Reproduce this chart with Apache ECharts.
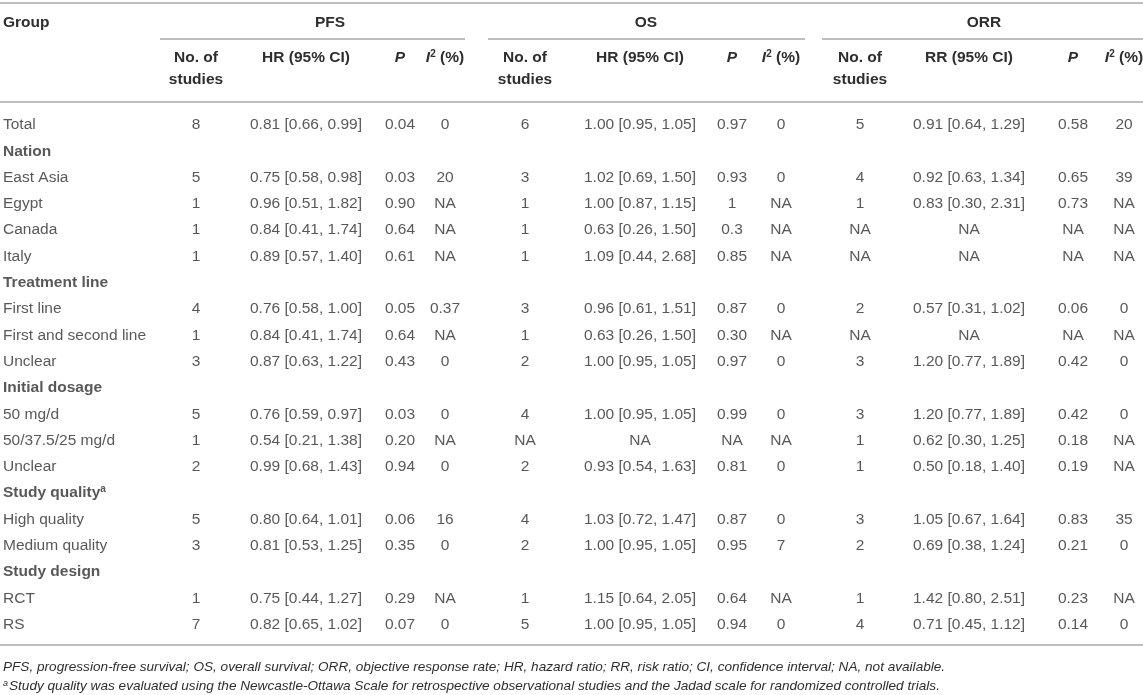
<!DOCTYPE html>
<html>
<head>
<meta charset="utf-8">
<script src="https://cdn.jsdelivr.net/npm/echarts@6/dist/echarts.min.js"></script>
<style>
  html, body { margin: 0; padding: 0; background: #fff; }
  #main { width: 1143px; height: 695px; }
</style>
</head>
<body>
<div id="main"></div>
<script>
// rows of the table body (section headings included)
const rowLabels = ['Total', 'Nation', 'East Asia', 'Egypt', 'Canada', 'Italy',
  'Treatment line', 'First line', 'First and second line', 'Unclear',
  'Initial dosage', '50 mg/d', '50/37.5/25 mg/d', 'Unclear',
  'Study quality', 'High quality', 'Medium quality',
  'Study design', 'RCT', 'RS']
const sectionRows = [1, 6, 10, 14, 17]

const pfsN = ['8', null, '5', '1', '1', '1', null, '4', '1', '3', null, '5', '1', '2', null, '5', '3', null, '1', '7']
const pfsHR = ['0.81 [0.66, 0.99]', null, '0.75 [0.58, 0.98]', '0.96 [0.51, 1.82]', '0.84 [0.41, 1.74]', '0.89 [0.57, 1.40]', null,
  '0.76 [0.58, 1.00]', '0.84 [0.41, 1.74]', '0.87 [0.63, 1.22]', null,
  '0.76 [0.59, 0.97]', '0.54 [0.21, 1.38]', '0.99 [0.68, 1.43]', null,
  '0.80 [0.64, 1.01]', '0.81 [0.53, 1.25]', null, '0.75 [0.44, 1.27]', '0.82 [0.65, 1.02]']
const pfsP = ['0.04', null, '0.03', '0.90', '0.64', '0.61', null, '0.05', '0.64', '0.43', null, '0.03', '0.20', '0.94', null, '0.06', '0.35', null, '0.29', '0.07']
const pfsI2 = ['0', null, '20', 'NA', 'NA', 'NA', null, '0.37', 'NA', '0', null, '0', 'NA', '0', null, '16', '0', null, 'NA', '0']

const osN = ['6', null, '3', '1', '1', '1', null, '3', '1', '2', null, '4', 'NA', '2', null, '4', '2', null, '1', '5']
const osHR = ['1.00 [0.95, 1.05]', null, '1.02 [0.69, 1.50]', '1.00 [0.87, 1.15]', '0.63 [0.26, 1.50]', '1.09 [0.44, 2.68]', null,
  '0.96 [0.61, 1.51]', '0.63 [0.26, 1.50]', '1.00 [0.95, 1.05]', null,
  '1.00 [0.95, 1.05]', 'NA', '0.93 [0.54, 1.63]', null,
  '1.03 [0.72, 1.47]', '1.00 [0.95, 1.05]', null, '1.15 [0.64, 2.05]', '1.00 [0.95, 1.05]']
const osP = ['0.97', null, '0.93', '1', '0.3', '0.85', null, '0.87', '0.30', '0.97', null, '0.99', 'NA', '0.81', null, '0.87', '0.95', null, '0.64', '0.94']
const osI2 = ['0', null, '0', 'NA', 'NA', 'NA', null, '0', 'NA', '0', null, '0', 'NA', '0', null, '0', '7', null, 'NA', '0']

const orrN = ['5', null, '4', '1', 'NA', 'NA', null, '2', 'NA', '3', null, '3', '1', '1', null, '3', '2', null, '1', '4']
const orrRR = ['0.91 [0.64, 1.29]', null, '0.92 [0.63, 1.34]', '0.83 [0.30, 2.31]', 'NA', 'NA', null,
  '0.57 [0.31, 1.02]', 'NA', '1.20 [0.77, 1.89]', null,
  '1.20 [0.77, 1.89]', '0.62 [0.30, 1.25]', '0.50 [0.18, 1.40]', null,
  '1.05 [0.67, 1.64]', '0.69 [0.38, 1.24]', null, '1.42 [0.80, 2.51]', '0.71 [0.45, 1.12]']
const orrP = ['0.58', null, '0.65', '0.73', 'NA', 'NA', null, '0.06', 'NA', '0.42', null, '0.42', '0.18', '0.19', null, '0.83', '0.21', null, '0.23', '0.14']
const orrI2 = ['20', null, '39', 'NA', 'NA', 'NA', null, '0', 'NA', '0', null, '0', 'NA', 'NA', null, '35', '0', null, 'NA', '0']

const footnote1 = 'PFS, progression-free survival; OS, overall survival; ORR, objective response rate; HR, hazard ratio; RR, risk ratio; CI, confidence interval; NA, not available.'
const footnote2 = 'Study quality was evaluated using the Newcastle-Ottawa Scale for retrospective observational studies and the Jadad scale for randomized controlled trials.'

// layout: column centres in px on the hidden x axis
const columns = [pfsN, pfsHR, pfsP, pfsI2, osN, osHR, osP, osI2, orrN, orrRR, orrP, orrI2]
const colX = [196, 306, 400, 445, 525, 640, 732, 781, 860, 969, 1073, 1124]
const W = 1143
const font = '"Liberation Sans", Arial, Helvetica, sans-serif'
const fs = 15.5
const textColor = '#2e2e2e'
const lineColor = '#a8a8a8'

const cellData = []
columns.forEach((col, c) => {
  col.forEach((v, r) => {
    if (v !== null) cellData.push([colX[c], r, v])
  })
})
const groupData = []
const sectionData = []
rowLabels.forEach((name, r) => {
  if (sectionRows.includes(r)) sectionData.push([3, r, name])
  else groupData.push([3, r, name])
})

const hline = (x1, x2, y) => ({
  type: 'line',
  shape: { x1: x1, y1: y, x2: x2, y2: y },
  style: { stroke: lineColor, lineWidth: 1.3 }
})
const htext = (x, y, text, align, extra) => ({
  type: 'text',
  x: x, y: y,
  style: Object.assign({
    text: text, fill: textColor, fontFamily: font, fontSize: fs, fontWeight: 'bold',
    align: align || 'center', verticalAlign: 'middle'
  }, extra || {})
})
const i2Rich = {
  i: { fontFamily: font, fontSize: fs, fontWeight: 'bold', fontStyle: 'italic', fill: textColor },
  s: { fontFamily: font, fontSize: 10, fontWeight: 'bold', fill: textColor, verticalAlign: 'top', padding: [0, 0, 7, 0] },
  b: { fontFamily: font, fontSize: fs, fontWeight: 'bold', fill: textColor }
}

const graphics = [
  hline(0, W, 3),
  hline(160, 465, 39),
  hline(488, 805, 39),
  hline(822, W, 39),
  hline(0, W, 102),
  hline(0, W, 645),
  htext(3, 23, 'Group', 'left'),
  htext(330, 23, 'PFS'),
  htext(646, 23, 'OS'),
  htext(984, 23, 'ORR')
]
const sub = [
  ['No. of\nstudies', 'HR (95% CI)', 'P', 'I2'],
  ['No. of\nstudies', 'HR (95% CI)', 'P', 'I2'],
  ['No. of\nstudies', 'RR (95% CI)', 'P', 'I2']
]
sub.forEach((grp, g) => {
  grp.forEach((t, k) => {
    const x = colX[g * 4 + k]
    if (k === 0) graphics.push(htext(x, 69, t, 'center', { lineHeight: 22 }))
    else if (k === 1) graphics.push(htext(x, 58, t))
    else if (k === 2) graphics.push(htext(x, 58, t, 'center', { fontStyle: 'italic' }))
    else graphics.push(htext(x, 58, '{i|I}{s|2}{b| (%)}', 'center', { rich: i2Rich }))
  })
})
graphics.push({
  type: 'text', x: 3, y: 667,
  style: { text: footnote1, fill: textColor, fontFamily: font, fontSize: 13.6, fontStyle: 'italic', verticalAlign: 'middle' }
})
graphics.push({
  type: 'text', x: 3, y: 686,
  style: {
    text: '{s|a}{t|' + footnote2 + '}', verticalAlign: 'middle',
    rich: {
      s: { fontFamily: font, fontSize: 9, fontStyle: 'italic', fill: textColor, verticalAlign: 'top', padding: [0, 1, 6, 0] },
      t: { fontFamily: font, fontSize: 13.6, fontStyle: 'italic', fill: textColor }
    }
  }
})

const chart = echarts.init(document.getElementById('main'))
const option = {
  animation: false,
  backgroundColor: '#fff',
  grid: { left: 0, right: 0, top: 111.85, height: 526 },
  xAxis: { type: 'value', min: 0, max: W, show: false },
  yAxis: { type: 'category', data: rowLabels.map((d, i) => i), inverse: true, show: false },
  graphic: graphics,
  series: [
    {
      type: 'scatter', data: cellData, symbolSize: 1, itemStyle: { color: 'rgba(0,0,0,0)' },
      label: {
        show: true, position: 'inside', align: 'center', verticalAlign: 'middle',
        formatter: p => p.data[2], color: textColor, fontFamily: font, fontSize: fs
      }
    },
    {
      type: 'scatter', data: groupData, symbolSize: 1, itemStyle: { color: 'rgba(0,0,0,0)' },
      label: {
        show: true, position: 'inside', align: 'left', verticalAlign: 'middle',
        formatter: p => p.data[2], color: textColor, fontFamily: font, fontSize: fs
      }
    },
    {
      type: 'scatter', data: sectionData, symbolSize: 1, itemStyle: { color: 'rgba(0,0,0,0)' },
      label: {
        show: true, position: 'inside', align: 'left', verticalAlign: 'middle',
        formatter: p => p.data[2] === 'Study quality' ? '{b|Study quality}{s|a}' : '{b|' + p.data[2] + '}',
        rich: {
          b: { color: textColor, fontFamily: font, fontSize: fs, fontWeight: 'bold' },
          s: { color: textColor, fontFamily: font, fontSize: 10, fontWeight: 'bold', verticalAlign: 'top', padding: [0, 0, 7, 0] }
        }
      }
    }
  ]
}
chart.setOption(option)
</script>
</body>
</html>
